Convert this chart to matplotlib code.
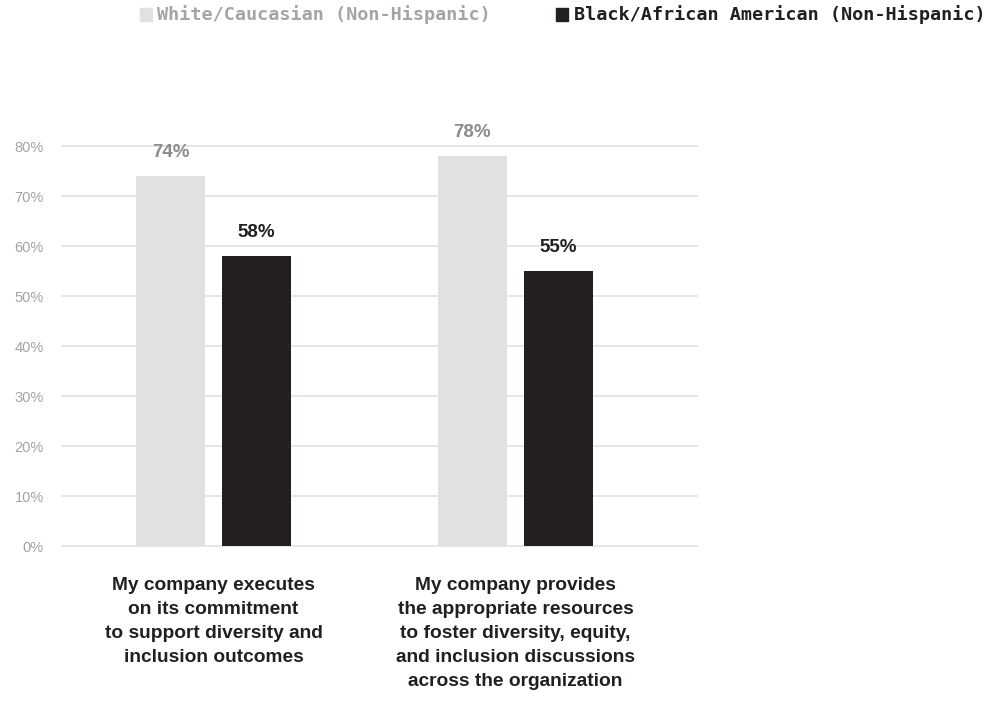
import matplotlib
matplotlib.use("Agg")
import matplotlib.pyplot as plt
from matplotlib.patches import Rectangle

categories = [
    "My company executes\non its commitment\nto support diversity and\ninclusion outcomes",
    "My company provides\nthe appropriate resources\nto foster diversity, equity,\nand inclusion discussions\nacross the organization",
]
series_names = ["White/Caucasian (Non-Hispanic)", "Black/African American (Non-Hispanic)"]
white_values = [74, 78]
black_values = [58, 55]
yticks = [0, 10, 20, 30, 40, 50, 60, 70, 80]

light = "#e0e1e3"
dark = "#231f20"
grid_c = "#e2e2e2"
tick_c = "#a3a3a3"
label_gray = "#8c8c8c"

W, H = 990, 705
fig = plt.figure(figsize=(W / 100, H / 100), dpi=100)
ax = fig.add_axes([62 / W, (H - 546) / H, (697 - 62) / W, (546 - 146) / H])

x = [0, 1]
bw = 0.2285
off = 0.1424
sans = ["Liberation Sans", "DejaVu Sans"]

b1 = ax.bar([i - off for i in x], white_values, width=bw, color=light, zorder=2)
b2 = ax.bar([i + off for i in x], black_values, width=bw, color=dark, zorder=2)

for bars, vals, col in ((b1, white_values, label_gray), (b2, black_values, dark)):
    for rect, v in zip(bars, vals):
        ax.annotate(f"{v}%", (rect.get_x() + rect.get_width() / 2, v),
                    xytext=(0, 11), textcoords="offset points",
                    ha="center", va="bottom", fontsize=13.5, fontweight="bold",
                    color=col, family=sans, annotation_clip=False)

ax.set_xlim(-0.502, 1.601)
ax.set_ylim(0, 80)
ax.set_yticks(yticks)
ax.set_yticklabels([f"{t}%" for t in yticks], color=tick_c, fontsize=10.5,
                   family=sans)
ax.tick_params(axis="y", length=0, pad=13)
ax.set_xticks([])
for t in yticks:
    ax.axhline(t, color=grid_c, lw=1.2, zorder=1, clip_on=False)
for s in ax.spines.values():
    s.set_visible(False)

for i, cat in zip(x, categories):
    ax.annotate(cat, (i, 0), xytext=(0, -22), textcoords="offset points",
                ha="center", va="top", fontsize=13.8, fontweight="bold",
                color=dark, family=sans, linespacing=1.54,
                annotation_clip=False)

# legend row at the top of the figure
mono = ["DejaVu Sans Mono"]
fig.patches.append(Rectangle((140 / W, 1 - 21 / H), 12 / W, 13 / H,
                             transform=fig.transFigure, color=light))
fig.text(157 / W, 1 - 15 / H, series_names[0], ha="left", va="center",
         fontsize=13.3, fontweight="bold", color="#a5a5a5", family=mono)
fig.patches.append(Rectangle((556 / W, 1 - 21 / H), 12 / W, 13 / H,
                             transform=fig.transFigure, color=dark))
fig.text(574 / W, 1 - 15 / H, series_names[1], ha="left", va="center",
         fontsize=13.3, fontweight="bold", color=dark, family=mono)

fig.savefig("out.png", dpi=100, facecolor="white")
